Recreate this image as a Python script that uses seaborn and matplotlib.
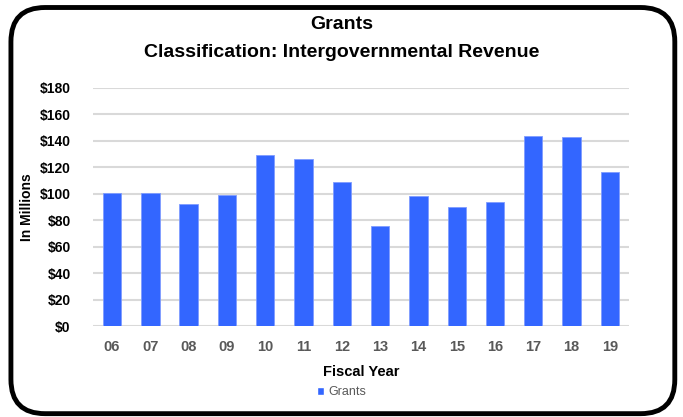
import matplotlib
matplotlib.use("Agg")
import matplotlib.pyplot as plt
from matplotlib.patches import FancyBboxPatch, Patch
import seaborn as sns
import pandas as pd

# data
years = ["06", "07", "08", "09", "10", "11", "12", "13", "14", "15", "16", "17", "18", "19"]
grants = [100.5, 100.8, 92.5, 99.3, 129.4, 126.6, 109.2, 75.8, 98.3, 89.7, 93.5, 143.6, 143.1, 116.5]
y_ticks = [0, 20, 40, 60, 80, 100, 120, 140, 160, 180]

sns.set_style("white")
plt.rcParams['font.family'] = ['Liberation Sans', 'DejaVu Sans']

df = pd.DataFrame({'Fiscal Year': years, 'Grants': grants})

fig = plt.figure(figsize=(6.83, 4.17), dpi=100)
ax = fig.add_axes([0.136, 0.218, 0.785, 0.571])

bar_col = '#3366ff'
sns.barplot(data=df, x='Fiscal Year', y='Grants', color=bar_col, width=0.48,
            edgecolor='#7f9cff', linewidth=0.6, saturation=1, ax=ax, zorder=3)

ax.set_ylim(0, 180)
ax.set_yticks(y_ticks)
ax.set_yticklabels(['${}'.format(v) for v in y_ticks], fontweight='bold', fontsize=10, color='black')
ax.set_xticks(range(len(years)))
ax.set_xticklabels(years, fontweight='bold', fontsize=10.5, color='#595959')
ax.yaxis.grid(True, color='#d9d9d9', linewidth=1.5, zorder=0)
ax.set_axisbelow(True)
for s in ax.spines.values():
    s.set_visible(False)
ax.tick_params(axis='both', length=0)
ax.tick_params(axis='y', pad=16)
ax.tick_params(axis='x', pad=10)

ax.set_xlabel('Fiscal Year', fontweight='bold', fontsize=10.5, color='black', labelpad=8)
ax.set_ylabel('In Millions', fontweight='bold', fontsize=10, color='black', labelpad=4)

fig.text(0.5, 0.942, 'Grants', ha='center', va='center', fontsize=14, fontweight='bold', color='black')
fig.text(0.5, 0.875, 'Classification: Intergovernmental Revenue', ha='center', va='center',
         fontsize=14, fontweight='bold', color='black')

leg = fig.legend(handles=[Patch(facecolor=bar_col, label='Grants')], loc='center',
                 bbox_to_anchor=(0.5, 0.06), frameon=False, fontsize=9,
                 handlelength=0.6, handleheight=0.6, handletextpad=0.3)
for t in leg.get_texts():
    t.set_color('#595959')

# rounded frame around the whole chart
frame = FancyBboxPatch((0.016, 0.008), 0.972, 0.974, boxstyle='round,pad=0,rounding_size=0.05',
                       transform=fig.transFigure, fill=False, edgecolor='black', linewidth=3.5,
                       mutation_aspect=683 / 417)
fig.patches.append(frame)

fig.savefig('out.png', dpi=100)
